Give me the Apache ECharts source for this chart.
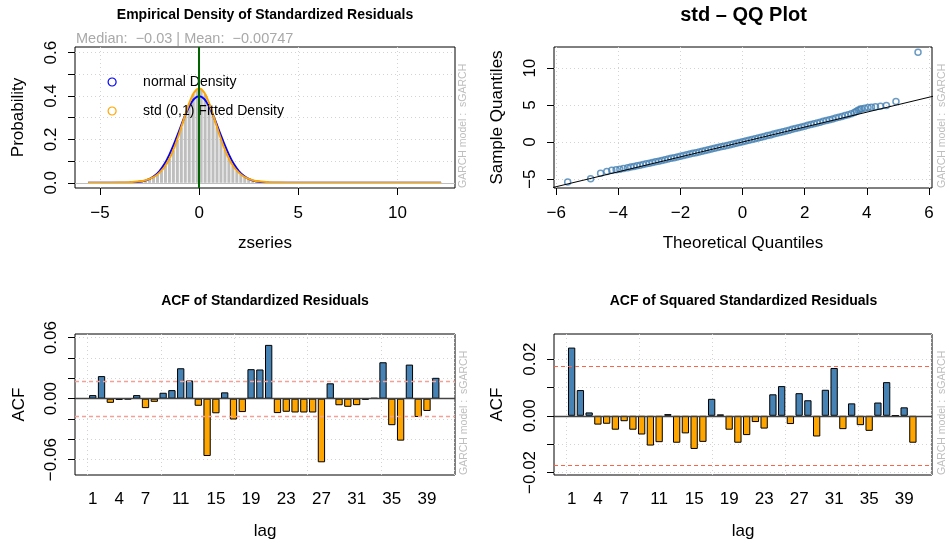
<!DOCTYPE html>
<html><head><meta charset="utf-8">
<script src="https://cdn.jsdelivr.net/npm/echarts@6/dist/echarts.min.js"></script>
<style>html,body{margin:0;padding:0;background:#fff}#c{width:949px;height:543px}</style>
</head><body><div id="c"></div>
<script>
// ---------------- data ----------------
// Panel 1: histogram (bin width 0.2) of standardized residuals
const histCenters = [-3.9,-3.7,-3.5,-3.3,-3.1,-2.9,-2.7,-2.5,-2.3,-2.1,-1.9,-1.7,-1.5,-1.3,-1.1,-0.9,-0.7,-0.5,-0.3,-0.1,
  0.1,0.3,0.5,0.7,0.9,1.1,1.3,1.5,1.7,1.9,2.1,2.3,2.5,2.7,2.9,3.1,3.3,3.5,3.7,3.9,4.1,4.3,4.5];
const histDensity = [0.002,0.002,0.003,0.004,0.006,0.008,0.012,0.018,0.026,0.038,0.055,0.079,0.110,0.150,0.198,0.255,0.312,0.366,0.410,0.432,
  0.430,0.408,0.364,0.312,0.256,0.201,0.152,0.112,0.080,0.056,0.039,0.027,0.018,0.013,0.009,0.006,0.004,0.003,0.002,0.002,0.001,0.001,0.001];
const curveX = [-5.6,-5,-4.5,-4,-3.5,-3.25,-3,-2.75,-2.5,-2.25,-2,-1.75,-1.5,-1.25,-1,-0.75,-0.5,-0.25,0,0.25,0.5,0.75,1,1.25,1.5,1.75,2,2.25,2.5,2.75,3,3.25,3.5,4,4.5,5,6,8,10,12.2];
const normalDensity = [0,0,0,0.0001,0.0009,0.002,0.0044,0.009,0.018,0.032,0.054,0.086,0.130,0.183,0.242,0.301,0.352,0.387,0.399,0.387,0.352,0.301,0.242,0.183,0.130,0.086,0.054,0.032,0.018,0.009,0.0044,0.002,0.0009,0.0001,0,0,0,0,0,0];
const stdDensity = [0.0001,0.0002,0.0004,0.001,0.0026,0.0043,0.0069,0.011,0.018,0.029,0.047,0.073,0.111,0.163,0.228,0.299,0.367,0.417,0.435,0.417,0.367,0.299,0.228,0.163,0.111,0.073,0.047,0.029,0.018,0.011,0.0069,0.0043,0.0026,0.001,0.0004,0.0002,0.0001,0,0,0];
const zMedian = -0.03;
const zMean = -0.00747;

// Panel 2: QQ plot
const qqTheoretical = [-5.63,-4.89,-4.57,-4.37,-4.21,-4.07,-3.95,-3.83,
  -3.7,-3.6,-3.5,-3.4,-3.3,-3.2,-3.1,-3.0,-2.9,-2.8,-2.7,-2.6,-2.5,-2.4,-2.3,-2.2,-2.1,-2.0,-1.9,-1.8,
  -1.7,-1.6,-1.5,-1.4,-1.3,-1.2,-1.1,-1.0,-0.9,-0.8,-0.7,-0.6,-0.5,-0.4,-0.3,-0.2,-0.1,0.0,0.1,0.2,
  0.3,0.4,0.5,0.6,0.7,0.8,0.9,1.0,1.1,1.2,1.3,1.4,1.5,1.6,1.7,1.8,1.9,2.0,2.1,2.2,
  2.3,2.4,2.5,2.6,2.7,2.8,2.9,3.0,3.1,3.2,3.3,3.4,3.5,3.6,
  3.66,3.72,3.78,3.83,3.93,4.04,4.15,4.28,4.44,4.63,4.94,5.65];
const qqSample = [-5.40,-4.96,-4.19,-3.97,-3.79,-3.74,-3.65,-3.57,
  -3.46,-3.37,-3.28,-3.20,-3.11,-3.02,-2.93,-2.85,-2.76,-2.66,-2.57,-2.48,-2.38,-2.29,-2.19,-2.10,-2.00,-1.90,-1.80,-1.71,
  -1.61,-1.51,-1.42,-1.32,-1.22,-1.13,-1.03,-0.93,-0.84,-0.74,-0.64,-0.54,-0.44,-0.35,-0.25,-0.15,-0.06,0.04,0.14,0.25,
  0.35,0.45,0.56,0.66,0.77,0.88,0.98,1.09,1.19,1.30,1.41,1.51,1.62,1.73,1.83,1.94,2.05,2.16,2.27,2.38,
  2.49,2.60,2.70,2.81,2.92,3.03,3.14,3.25,3.36,3.48,3.59,3.71,3.84,3.99,
  4.15,4.32,4.42,4.50,4.59,4.68,4.73,4.77,4.86,4.95,5.49,12.16];
const qqLineX = [-6.6, 6.6];
const qqLineY = [-6.63, 6.67];

// Panels 3-4: ACF
const acfLags = [1,2,3,4,5,6,7,8,9,10,11,12,13,14,15,16,17,18,19,20,21,22,23,24,25,26,27,28,29,30,31,32,33,34,35,36,37,38,39,40];
const acfResid = [0.0035,0.0222,-0.0041,-0.0013,-0.0007,0.0035,-0.0093,-0.0031,0.0058,0.0084,0.0299,0.0179,-0.0070,-0.0564,-0.0144,0.0062,-0.0205,-0.0132,0.0290,0.0287,
  0.0529,-0.0142,-0.0129,-0.0136,-0.0136,-0.0136,-0.0626,0.0151,-0.0065,-0.0080,-0.0064,-0.0011,0.0007,0.0358,-0.0261,-0.0413,0.0335,-0.0180,-0.0121,0.0205];
const acfSqResid = [0.0241,0.0091,0.0012,-0.0031,-0.0028,-0.0049,-0.0019,-0.0049,-0.0066,-0.0105,-0.0093,0.0006,-0.0095,-0.0062,-0.0117,-0.0092,0.0060,0.0005,-0.0049,-0.0095,
  -0.0068,-0.0022,-0.0045,0.0076,0.0105,-0.0029,0.0080,0.0055,-0.0073,0.0092,0.0169,-0.0047,0.0044,-0.0033,-0.0053,0.0047,0.0119,0.0001,0.0030,-0.0095];
const acfConf = 0.0175;
const lagLabels = [1,4,7,11,15,19,23,27,31,35,39];

// tick values
const p1xTicks = [-5,0,5,10];
const p1yTicks = [0,0.1,0.2,0.3,0.4,0.5,0.6];
const p1yLabels = [0,0.2,0.4,0.6];
const p2xTicks = [-6,-4,-2,0,2,4,6];
const p2yTicks = [-5,0,5,10];
const p3yTicks = [-0.06,-0.04,-0.02,0,0.02,0.04,0.06];
const p3yLabels = [-0.06,0,0.06];
const p4yTicks = [-0.02,-0.01,0,0.01,0.02];
const p4yLabels = [-0.02,0,0.02];
const barGridTicks = [0,10,20,30,40,50];

// ---------------- chart ----------------
const FONT = '"Liberation Sans", Arial, Helvetica, sans-serif';
function num(d){ return function(v){ const s = Math.abs(v).toFixed(d); if (Number(s) === 0) return s; return (v < 0 ? '\u2212' : '') + s; }; }
// barplot geometry: width 1, space 0.2
function barPos(lag){ return 0.7 + 1.2 * (lag - 1); }

const tickStyle = {show:true, inside:false, length:7, lineStyle:{color:'#000', width:1}};
const splitStyle = {show:true, lineStyle:{color:'#d3d3d3', type:[1,3], width:1}};
const nameStyle = {color:'#000', fontSize:17, fontFamily:FONT};

function xAxis(g, min, max, ticks, labels, fmt, name, gap, showTick, margin){
  return {type:'value', gridIndex:g, min:min, max:max, name:name, nameLocation:'middle', nameGap:gap, nameTextStyle:nameStyle,
    position:'bottom',
    axisLine:{show:false, onZero:false},
    axisTick:Object.assign({}, tickStyle, {show:showTick, customValues:ticks}),
    axisLabel:{customValues:labels, formatter:fmt, color:'#000', fontSize:17, fontFamily:FONT, margin:margin},
    splitLine:splitStyle};
}
function yAxis(g, min, max, ticks, labels, fmt, name, gap){
  return {type:'value', gridIndex:g, min:min, max:max, name:name, nameLocation:'middle', nameGap:gap, nameTextStyle:nameStyle,
    position:'left',
    axisLine:{show:false, onZero:false},
    axisTick:Object.assign({}, tickStyle, {customValues:ticks}),
    axisLabel:{customValues:labels, formatter:fmt, rotate:90, color:'#000', fontSize:17, fontFamily:FONT, margin:15},
    splitLine:splitStyle};
}
function acfData(vals){
  return acfLags.map((l, i) => ({value:[barPos(l), vals[i]], itemStyle:{color: vals[i] >= 0 ? '#4682b4' : '#ffa500'}}));
}
function lagFmt(v){ return String(Math.round((v - 0.7) / 1.2) + 1); }
function refLines(g, key, values, style){
  return {type:'line', name:'ref' + g + key, xAxisIndex:g, yAxisIndex:g, data:[], silent:true,
    markLine:{silent:true, symbol:'none', precision:8, label:{show:false}, lineStyle:style,
      data:values.map(v => key === 'x' ? {xAxis:v} : {yAxis:v})}};
}

const gridBase = {show:true, borderColor:'#000', borderWidth:1, backgroundColor:'transparent', containLabel:false};
const garchFont = '10.5px ' + FONT;

const option = {
  animation:false,
  backgroundColor:'#fff',
  textStyle:{fontFamily:FONT},
  title:[
    {text:'Empirical Density of Standardized Residuals', left:265, top:8, padding:0, textAlign:'center', textStyle:{fontSize:14, fontWeight:'bold', color:'#000', fontFamily:FONT}},
    {text:'Median:  ' + num(2)(zMedian) + ' | Mean:  ' + '\u2212' + Math.abs(zMean), left:76, top:31, padding:0, textStyle:{fontSize:14.5, fontWeight:'normal', color:'#a9a9a9', fontFamily:FONT}},
    {text:'std \u2013 QQ Plot', left:743.5, top:5, padding:0, textAlign:'center', textStyle:{fontSize:20, fontWeight:'bold', color:'#000', fontFamily:FONT}},
    {text:'ACF of Standardized Residuals', left:265, top:294, padding:0, textAlign:'center', textStyle:{fontSize:14, fontWeight:'bold', color:'#000', fontFamily:FONT}},
    {text:'ACF of Squared Standardized Residuals', left:743.5, top:294, padding:0, textAlign:'center', textStyle:{fontSize:14, fontWeight:'bold', color:'#000', fontFamily:FONT}}
  ],
  legend:{
    orient:'vertical', left:102.5, top:70, itemGap:15, icon:'circle', itemWidth:8, itemHeight:8, selectedMode:false,
    textStyle:{fontSize:14, color:'#000', fontFamily:FONT, padding:[0,0,0,22]},
    data:[
      {name:'normal Density', itemStyle:{color:'rgba(0,0,0,0)', borderColor:'#0000ff', borderWidth:1.2}},
      {name:'std (0,1) Fitted Density', itemStyle:{color:'rgba(0,0,0,0)', borderColor:'#ffa500', borderWidth:1.2}}
    ]
  },
  grid:[
    Object.assign({left:75, top:47, width:380, height:141}, gridBase),
    Object.assign({left:554, top:47, width:378, height:141}, gridBase),
    Object.assign({left:75, top:334, width:380, height:141}, gridBase),
    Object.assign({left:554, top:334, width:378, height:141}, gridBase)
  ],
  xAxis:[
    xAxis(0, -6.26, 12.9, p1xTicks, p1xTicks, num(0), 'zseries', 47, true, 17),
    xAxis(1, -6.07, 6.1, p2xTicks, p2xTicks, num(0), 'Theoretical Quantiles', 47, true, 17),
    xAxis(2, -1.72, 50.12, barGridTicks, lagLabels.map(barPos), lagFmt, 'lag', 48, false, 16),
    xAxis(3, -1.72, 50.12, barGridTicks, lagLabels.map(barPos), lagFmt, 'lag', 48, false, 16)
  ],
  yAxis:[
    yAxis(0, -0.024, 0.626, p1yTicks, p1yLabels, num(1), 'Probability', 48),
    yAxis(1, -6.2, 12.86, p2yTicks, p2yTicks, num(0), 'Sample Quantiles', 48),
    yAxis(2, -0.0751, 0.0636, p3yTicks, p3yLabels, num(2), 'ACF', 47),
    yAxis(3, -0.0209, 0.0289, p4yTicks, p4yLabels, num(2), 'ACF', 48)
  ],
  series:[
    {type:'bar', name:'hist', xAxisIndex:0, yAxisIndex:0, barWidth:3, itemStyle:{color:'#bebebe'},
      data:histCenters.map((c, i) => [c, histDensity[i]])},
    refLines(0, 'y', [0], {color:'#bebebe', width:1, type:'solid'}),
    {type:'line', name:'normal Density', xAxisIndex:0, yAxisIndex:0, showSymbol:false, smooth:0.3,
      lineStyle:{color:'#0000ff', width:2}, itemStyle:{color:'#0000ff'},
      data:curveX.map((x, i) => [x, normalDensity[i]])},
    {type:'line', name:'std (0,1) Fitted Density', xAxisIndex:0, yAxisIndex:0, showSymbol:false, smooth:0.3,
      lineStyle:{color:'#ffa500', width:2}, itemStyle:{color:'#ffa500'},
      data:curveX.map((x, i) => [x, stdDensity[i]])},
    refLines(0, 'x', [zMean], {color:'#ff0000', width:2, type:'solid'}),
    Object.assign(refLines(0, 'x', [zMedian], {color:'#006400', width:2, type:'solid'}), {name:'ref0median'}),
    {type:'scatter', name:'qq', xAxisIndex:1, yAxisIndex:1, symbol:'circle', symbolSize:6,
      itemStyle:{color:'rgba(0,0,0,0)', borderColor:'#4682b4', borderWidth:1.5},
      data:qqTheoretical.map((x, i) => [x, qqSample[i]])},
    {type:'line', name:'qqline', xAxisIndex:1, yAxisIndex:1, showSymbol:false, clip:true,
      lineStyle:{color:'#000', width:1}, data:qqLineX.map((x, i) => [x, qqLineY[i]])},
    {type:'bar', name:'acf', xAxisIndex:2, yAxisIndex:2, barWidth:7.3,
      itemStyle:{borderColor:'#000', borderWidth:1}, data:acfData(acfResid)},
    refLines(2, 'y', [acfConf, -acfConf], {color:'#f4a095', width:1.3, type:[4,3]}),
    Object.assign(refLines(2, 'y', [0], {color:'#444', width:1.3, type:'solid'}), {name:'ref2zero'}),
    {type:'bar', name:'acf2', xAxisIndex:3, yAxisIndex:3, barWidth:7.3,
      itemStyle:{borderColor:'#000', borderWidth:1}, data:acfData(acfSqResid)},
    refLines(3, 'y', [acfConf, -acfConf], {color:'#ff6347', width:1, type:[4,3]}),
    Object.assign(refLines(3, 'y', [0], {color:'#444', width:1.3, type:'solid'}), {name:'ref3zero'})
  ],
  graphic:[
    {type:'text', x:463, y:188, rotation:Math.PI/2, style:{text:'GARCH model :  sGARCH', fill:'#bebebe', font:garchFont, align:'left', verticalAlign:'middle'}},
    {type:'text', x:942, y:188, rotation:Math.PI/2, style:{text:'GARCH model :  sGARCH', fill:'#bebebe', font:garchFont, align:'left', verticalAlign:'middle'}},
    {type:'text', x:464, y:475, rotation:Math.PI/2, style:{text:'GARCH model :  sGARCH', fill:'#bebebe', font:garchFont, align:'left', verticalAlign:'middle'}},
    {type:'text', x:942, y:475, rotation:Math.PI/2, style:{text:'GARCH model :  sGARCH', fill:'#bebebe', font:garchFont, align:'left', verticalAlign:'middle'}}
  ]
};
const chart = echarts.init(document.getElementById('c'), null, {renderer:'canvas'});
chart.setOption(option);
</script>
</body></html>
